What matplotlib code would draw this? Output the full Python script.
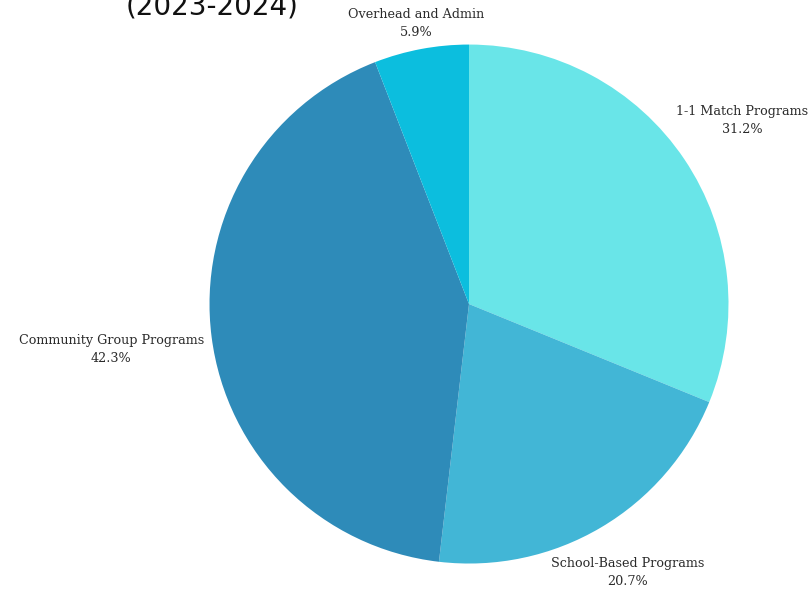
import numpy as np
import matplotlib.pyplot as plt

labels = ['1-1 Match Programs', 'School-Based Programs',
          'Community Group Programs', 'Overhead and Admin']
shares = [31.2, 20.7, 42.3, 5.9]
colors = ['#69E5E8', '#42B6D6', '#2E8BB9', '#0CBEDE']
label_dist = [1.27, 1.20, 1.39, 1.10]

fig = plt.figure(figsize=(8.11, 5.94), dpi=100)
ax = fig.add_axes([0.2583, 0.0513, 0.640, 0.8737])

wedges, _ = ax.pie(shares, colors=colors, startangle=90, counterclock=False,
                   wedgeprops={'linewidth': 0})
ax.set_xlim(-1, 1)
ax.set_ylim(-1, 1)
ax.set_aspect('equal')

for w, lab, val, d in zip(wedges, labels, shares, label_dist):
    ang = np.deg2rad((w.theta1 + w.theta2) / 2)
    ax.text(d * np.cos(ang), d * np.sin(ang), '%s\n%.1f%%' % (lab, val),
            ha='center', va='center', fontsize=9.2, family='DejaVu Serif',
            color='#2a2a2a', linespacing=1.5, clip_on=False)

# title sits partly above the top edge, as in the reference
fig.text(126 / 811, 1 - 14 / 594, '(2023-2024)', fontsize=20,
         family='DejaVu Sans', color='#111111', ha='left', va='baseline')

fig.savefig('out.png', dpi=100)
